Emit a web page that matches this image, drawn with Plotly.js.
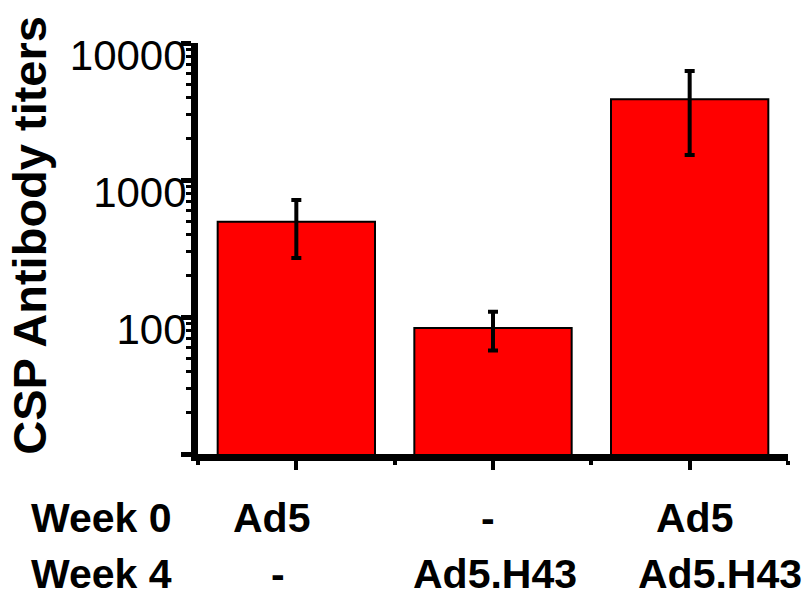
<!DOCTYPE html>
<html>
<head>
<meta charset="utf-8">
<script src="https://cdn.plot.ly/plotly-3.0.1.min.js"></script>
<style>html,body{margin:0;padding:0;background:#fff;}#chart{width:804px;height:600px;}</style>
</head>
<body>
<div id="chart"></div>
<script>
// Data
const week0Labels = ["Ad5", "-", "Ad5"];
const week4Labels = ["-", "Ad5.H43", "Ad5.H43"];
const rowLabels = ["Week 0", "Week 4"];
const titers = [495, 83, 3890];
const errUpper = [715, 109, 6250];
const errLower = [270, 57, 1520];
const yTickVals = [10, 100, 1000, 10000];
const yTickText = ["", "100", "1000", "10000"];
const yTitle = "CSP Antibody titers";

const xIdx = titers.map((_, i) => i);
const plusErr = titers.map((v, i) => errUpper[i] - v);
const minusErr = titers.map((v, i) => v - errLower[i]);

const trace = {
  type: "bar",
  x: xIdx,
  y: titers,
  width: 0.8,
  marker: {color: "#ff0000", line: {color: "#000", width: 2}},
  error_y: {type: "data", symmetric: false, array: plusErr, arrayminus: minusErr,
            color: "#000", thickness: 4, width: 5},
  hoverinfo: "none"
};

const FAM = "Liberation Sans, Arial, sans-serif";
const labelFont = {family: FAM, size: 41, color: "#000"};
const shifts0 = [-25, -5, 5];
const shifts4 = [-18, 2, 30];
const row0Y = -0.156, row4Y = -0.292, leftX = -0.285;
const annotations = [];
xIdx.forEach(i => {
  annotations.push({xref: "x", yref: "paper", x: i, y: row0Y, text: "<b>" + week0Labels[i] + "</b>",
    showarrow: false, xanchor: "center", yanchor: "middle", xshift: shifts0[i], borderpad: 0, font: labelFont});
  annotations.push({xref: "x", yref: "paper", x: i, y: row4Y, text: "<b>" + week4Labels[i] + "</b>",
    showarrow: false, xanchor: "center", yanchor: "middle", xshift: shifts4[i], borderpad: 0, font: labelFont});
});
rowLabels.forEach((t, r) => {
  annotations.push({xref: "paper", yref: "paper", x: leftX, y: r === 0 ? row0Y : row4Y,
    text: "<b>" + t + "</b>", showarrow: false, xanchor: "left", yanchor: "middle", borderpad: 0, font: labelFont});
});
annotations.push({xref: "paper", yref: "paper", x: leftX, y: 0.533, text: "<b>" + yTitle + "</b>",
  textangle: -90, showarrow: false, xanchor: "center", yanchor: "middle",
  font: {family: FAM, size: 47, color: "#000"}});

const layout = {
  width: 804, height: 600,
  margin: {l: 198, r: 16, t: 43, b: 146},
  paper_bgcolor: "#fff", plot_bgcolor: "#fff",
  showlegend: false,
  font: {family: FAM, color: "#000"},
  xaxis: {
    range: [-0.5, 2.5], showgrid: false, zeroline: false,
    showline: true, linecolor: "#000", linewidth: 7,
    tickmode: "array", tickvals: xIdx, ticktext: xIdx.map(() => ""),
    ticks: "outside", ticklen: 9, tickwidth: 4, tickcolor: "#000",
    minor: {tickmode: "array", tickvals: [-0.5, 0.5, 1.5, 2.5], ticks: "outside", ticklen: 4, tickwidth: 4, tickcolor: "#000", showgrid: false},
    fixedrange: true
  },
  yaxis: {
    type: "log", range: [1, 4], showgrid: false, zeroline: false,
    showline: true, linecolor: "#000", linewidth: 7,
    tickmode: "array", tickvals: yTickVals, ticktext: yTickText,
    ticks: "outside", ticklen: 10, tickwidth: 5, tickcolor: "#000",
    tickfont: {size: 42, family: FAM, color: "#000"},
    ticklabelshift: 12,
    ticklabelstandoff: -14,
    minor: {dtick: "D1", ticks: "outside", ticklen: 5, tickwidth: 3, tickcolor: "#000", showgrid: false},
    automargin: false,
    fixedrange: true
  },
  annotations: annotations
};

Plotly.newPlot("chart", [trace], layout, {displayModeBar: false, staticPlot: true});
</script>
</body>
</html>
